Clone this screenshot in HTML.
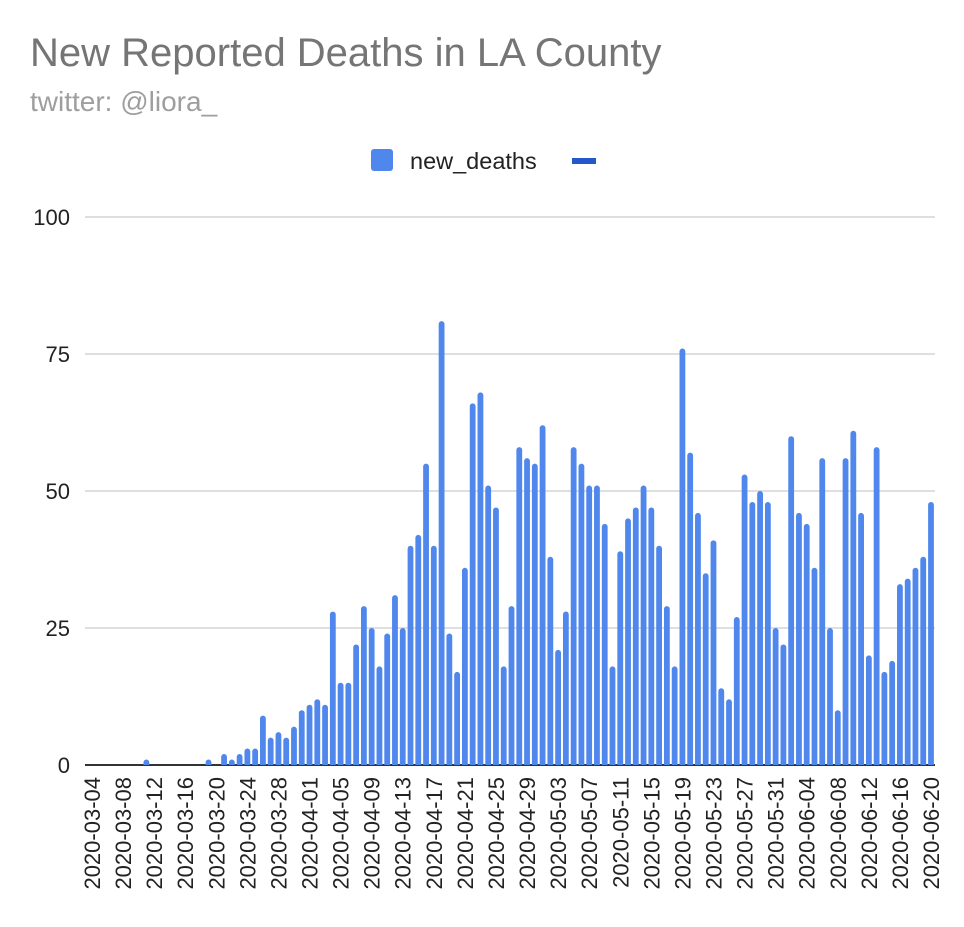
<!DOCTYPE html>
<html><head><meta charset="utf-8"><style>
body{margin:0;background:#fff;font-family:"Liberation Sans",Arial,sans-serif;}
</style></head><body>
<svg id="chart" width="964" height="922" xmlns="http://www.w3.org/2000/svg" font-family="Liberation Sans, Arial, sans-serif">
<text x="30" y="66" font-size="40" fill="#757575">New Reported Deaths in LA County</text>
<text x="30" y="111" font-size="28" fill="#9e9e9e">twitter: @liora_</text>
<g>
<rect x="371" y="149" width="22" height="22" rx="3" fill="#5087ec"/>
<text x="410" y="169" font-size="23.5" fill="#222">new_deaths</text>
<rect x="572" y="158" width="24" height="6" fill="#2456cc"/>
</g>
<g id="grid"></g><g id="bars"></g><g id="xl"></g>
</svg>
<script>
const startDate = "2020-03-04";
const dayCount = 109;
const sparseIdx = [7, 15];
const sparseVals = [1, 1];
const dailyFrom17 = [2,1,2,3,3,9,5,6,5,7,10,11,12,11,28,15,15,22,29,25,18,24,31,25,40,42,55,40,81,24,17,36,66,68,51,47,18,29,58,56,55,62,38,21,28,58,55,51,51,44,18,39,45,47,51,47,40,29,18,76,57,46,35,41,14,12,27,53,48,50,48,25,22,60,46,44,36,56,25,10,56,61,46,20,58,17,19,33,34,36,38,48];
const yTicks = [0,25,50,75,100];

const values = new Array(dayCount).fill(0);
sparseIdx.forEach((d,i)=>values[d]=sparseVals[i]);
dailyFrom17.forEach((v,i)=>values[17+i]=v);
const dates=[];
{const s=new Date(startDate+"T00:00:00Z");for(let i=0;i<dayCount;i++){const d=new Date(s.getTime()+i*864e5);dates.push(d.toISOString().slice(0,10));}}

const NS="http://www.w3.org/2000/svg";
const x0=92, step=(931-92)/(dayCount-1), yBase=765, yTop=217, yMax=100;
const xS=i=>x0+i*step;
const yS=v=>yBase-(v/yMax)*(yBase-yTop);
const grid=document.getElementById('grid'), bars=document.getElementById('bars'), xl=document.getElementById('xl');

yTicks.forEach(t=>{
  const l=document.createElementNS(NS,'line');
  
  
  l.setAttribute('x1',85);l.setAttribute('x2',935);l.setAttribute('y1',yS(t));l.setAttribute('y2',yS(t));
  l.setAttribute('stroke',t===0?'#333':'#ccc');l.setAttribute('stroke-width',t===0?2:1.3);
  grid.appendChild(l);
  const tx=document.createElementNS(NS,'text');
  
  
  tx.setAttribute('x',70);tx.setAttribute('y',yS(t)+8);tx.setAttribute('text-anchor','end');
  tx.setAttribute('font-size','22');tx.setAttribute('fill','#222');tx.textContent=t;
  grid.appendChild(tx);
});

values.forEach((v,i)=>{
  if(v<=0)return;
  const p=document.createElementNS(NS,'path');
  
  
  const x=xS(i)-2.9,w=5.8,r=2.9,top=yS(v);
  p.setAttribute('d',`M${x},${yBase} L${x},${top+r} A${r},${r} 0 0 1 ${x+w},${top+r} L${x+w},${yBase} Z`);
  p.setAttribute('fill','#5087ec');
  bars.appendChild(p);
});

dates.forEach((d,i)=>{
  if(i%4!==0)return;
  const t=document.createElementNS(NS,'text');
  
  
  const x=xS(i)+8,y=777;
  t.setAttribute('x',x);t.setAttribute('y',y);
  t.setAttribute('transform',`rotate(-90 ${x} ${y})`);
  t.setAttribute('text-anchor','end');t.setAttribute('font-size','22');t.setAttribute('fill','#222');
  t.textContent=d;
  xl.appendChild(t);
});
</script>
</body></html>
